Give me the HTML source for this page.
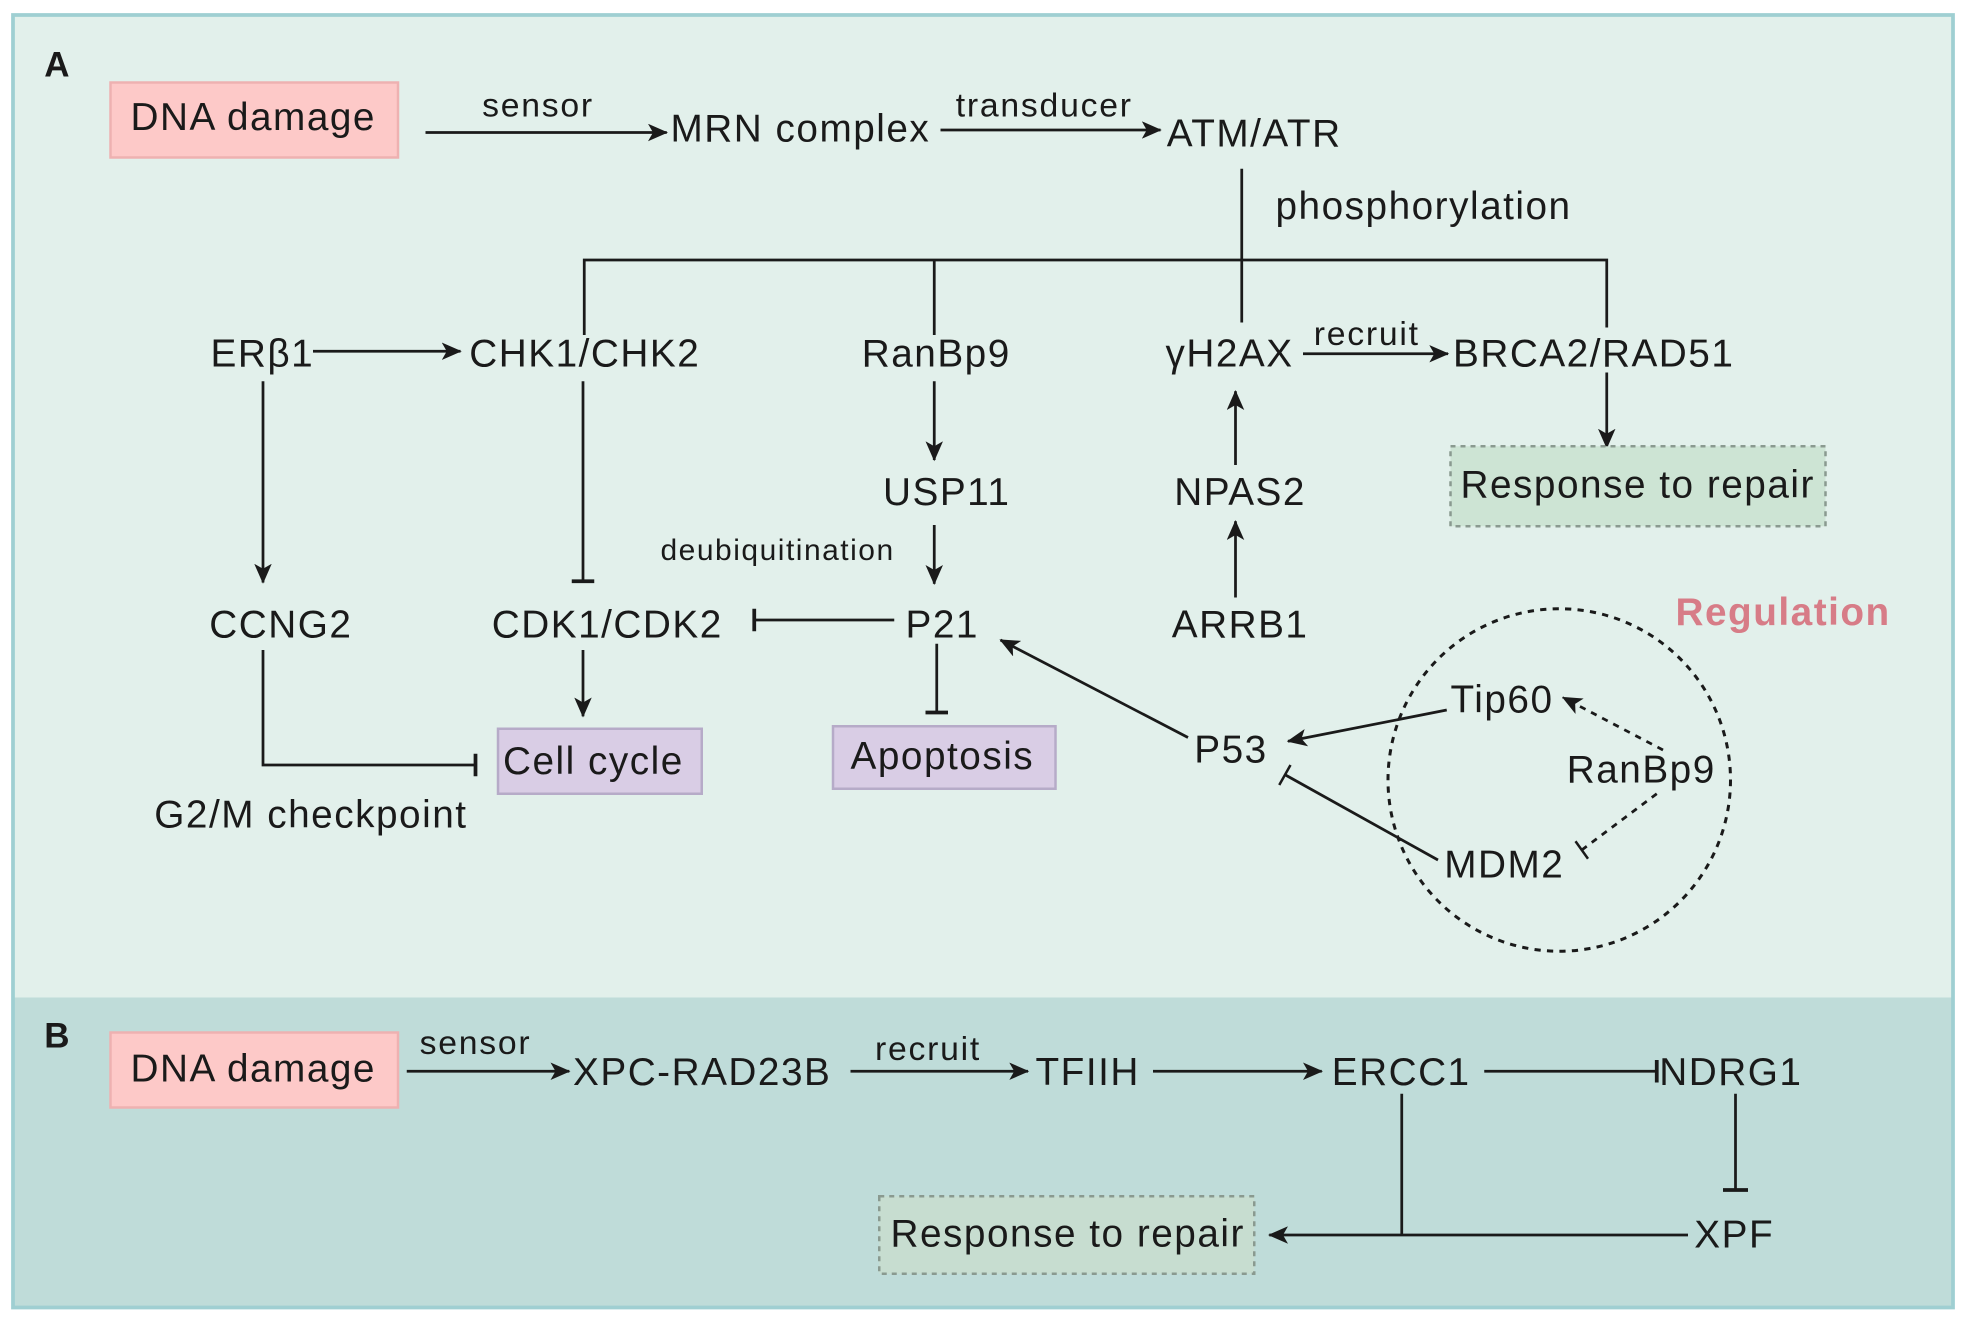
<!DOCTYPE html>
<html><head><meta charset="utf-8"><style>
html,body{margin:0;padding:0;background:#fff;}
svg{display:block;}
text{font-family:"Liberation Sans",sans-serif;fill:#1a1a1a;}
</style></head><body>
<svg width="1961" height="1320" viewBox="0 0 1568 1056" xmlns="http://www.w3.org/2000/svg">
<defs>
<marker id="ar2" markerWidth="16" markerHeight="14" refX="15" refY="7" orient="auto" markerUnits="userSpaceOnUse" viewBox="0 0 16 14"><path d="M0,0 L16,7 L0,14 L4,7 z" fill="#1a1a1a"/></marker>
</defs>
<rect x="0" y="0" width="1568" height="1056" fill="#fff"/>
<rect x="10" y="12" width="1552" height="786" fill="#e2f0eb"/>
<rect x="10" y="798" width="1552" height="248" fill="#bfdcd9"/>
<rect x="10" y="12" width="1552" height="1034" fill="none" stroke="#9fcfd2" stroke-width="3"/>

<g stroke="#1a1a1a" stroke-width="2.2" fill="none">
<line x1="340" y1="106" x2="533" y2="106" marker-end="url(#ar2)"/>
<line x1="752" y1="104" x2="928" y2="104" marker-end="url(#ar2)"/>
<line x1="993" y1="135" x2="993" y2="258"/>
<polyline points="467,268 467,208 1285,208 1285,262"/>
<line x1="747" y1="208" x2="747" y2="268"/>
<line x1="1285" y1="298" x2="1285" y2="358" marker-end="url(#ar2)"/>
<line x1="250" y1="281" x2="368" y2="281" marker-end="url(#ar2)"/>
<line x1="210" y1="305" x2="210" y2="466" marker-end="url(#ar2)"/>
<line x1="466" y1="305" x2="466" y2="465"/><line x1="457" y1="465" x2="475" y2="465" stroke-width="3"/>
<line x1="747" y1="305" x2="747" y2="368" marker-end="url(#ar2)"/>
<line x1="747" y1="420" x2="747" y2="467" marker-end="url(#ar2)"/>
<line x1="1042" y1="283" x2="1158" y2="283" marker-end="url(#ar2)"/>
<line x1="988" y1="372" x2="988" y2="313" marker-end="url(#ar2)"/>
<line x1="988" y1="478" x2="988" y2="417" marker-end="url(#ar2)"/>
<line x1="715" y1="496" x2="603" y2="496"/><line x1="603" y1="487" x2="603" y2="505" stroke-width="3"/>
<line x1="466" y1="520" x2="466" y2="573" marker-end="url(#ar2)"/>
<polyline points="210,520 210,612 380,612"/><line x1="380" y1="603" x2="380" y2="621" stroke-width="3"/>
<line x1="749" y1="515" x2="749" y2="570"/><line x1="740" y1="570" x2="758" y2="570" stroke-width="3"/>
<line x1="950" y1="590" x2="800" y2="512" marker-end="url(#ar2)"/>
<line x1="1157" y1="568" x2="1030" y2="593" marker-end="url(#ar2)"/>
<line x1="1150" y1="688" x2="1028" y2="620"/><line x1="1023" y1="628" x2="1032" y2="612" stroke-width="2"/>
<circle cx="1247" cy="624" r="137" stroke-dasharray="5,5" stroke-width="2.4"/>
<line x1="1330" y1="600" x2="1250" y2="558" stroke-dasharray="5,5" marker-end="url(#ar2)"/>
<line x1="1325" y1="635" x2="1265" y2="680" stroke-dasharray="5,5"/><line x1="1260" y1="673" x2="1270" y2="687" stroke-width="2"/>
<line x1="325" y1="857" x2="455" y2="857" marker-end="url(#ar2)"/>
<line x1="680" y1="857" x2="822" y2="857" marker-end="url(#ar2)"/>
<line x1="922" y1="857" x2="1057" y2="857" marker-end="url(#ar2)"/>
<line x1="1187" y1="857" x2="1325" y2="857"/><line x1="1325" y1="848" x2="1325" y2="866" stroke-width="3"/>
<line x1="1388" y1="875" x2="1388" y2="952"/><line x1="1378" y1="952" x2="1398" y2="952" stroke-width="3"/>
<line x1="1350" y1="988" x2="1015" y2="988" marker-end="url(#ar2)"/>
<line x1="1121" y1="875" x2="1121" y2="988"/>
</g>

<rect x="88" y="66" width="230" height="60" fill="#fdc9c8" stroke="#eeb1b1" stroke-width="2"/>
<rect x="88" y="826" width="230" height="60" fill="#fdc9c8" stroke="#eeb1b1" stroke-width="2"/>
<rect x="1160" y="357" width="300" height="64" fill="#cde4d4" stroke="#8a9a90" stroke-width="2" stroke-dasharray="4,4"/>
<rect x="703" y="957" width="300" height="62" fill="#c7ddd0" stroke="#8a9a90" stroke-width="2" stroke-dasharray="4,4"/>
<rect x="398" y="583" width="163" height="52" fill="#d9cde5" stroke="#b6abc8" stroke-width="2"/>
<rect x="666" y="581" width="178" height="50" fill="#d9cde5" stroke="#b6abc8" stroke-width="2"/>

<text x="35" y="61" font-weight="bold" font-size="28">A</text>
<text x="35" y="838" font-weight="bold" font-size="28">B</text>
<g font-size="31" letter-spacing="1.2">
<text x="104" y="104">DNA damage</text>
<text x="536" y="113">MRN complex</text>
<text x="933" y="117">ATM/ATR</text>
<text x="1020" y="175">phosphorylation</text>
<text x="168" y="293">ERβ1</text>
<text x="375" y="293">CHK1/CHK2</text>
<text x="689" y="293">RanBp9</text>
<text x="932" y="293">γH2AX</text>
<text x="1162" y="293">BRCA2/RAD51</text>
<text x="706" y="404">USP11</text>
<text x="939" y="404">NPAS2</text>
<text x="1168" y="398">Response to repair</text>
<text x="167" y="510">CCNG2</text>
<text x="393" y="510">CDK1/CDK2</text>
<text x="724" y="510">P21</text>
<text x="937" y="510">ARRB1</text>
<text x="402" y="619">Cell cycle</text>
<text x="680" y="615">Apoptosis</text>
<text x="123" y="662">G2/M checkpoint</text>
<text x="955" y="610">P53</text>
<text x="1160" y="570">Tip60</text>
<text x="1253" y="626">RanBp9</text>
<text x="1155" y="702">MDM2</text>
<text x="1340" y="500" font-weight="bold" style="fill:#d77c87">Regulation</text>
<text x="104" y="865">DNA damage</text>
<text x="458" y="868">XPC-RAD23B</text>
<text x="828" y="868">TFIIH</text>
<text x="1065" y="868">ERCC1</text>
<text x="1327" y="868">NDRG1</text>
<text x="1355" y="998">XPF</text>
<text x="712" y="997">Response to repair</text>
</g>
<g font-size="27" text-anchor="middle" letter-spacing="1.4">
<text x="430" y="93">sensor</text>
<text x="835" y="93">transducer</text>
<text x="1093" y="276">recruit</text>
<text x="380" y="843">sensor</text>
<text x="742" y="848">recruit</text>
</g>
<text x="528" y="448" font-size="24" letter-spacing="1.2">deubiquitination</text>
</svg>
</body></html>
